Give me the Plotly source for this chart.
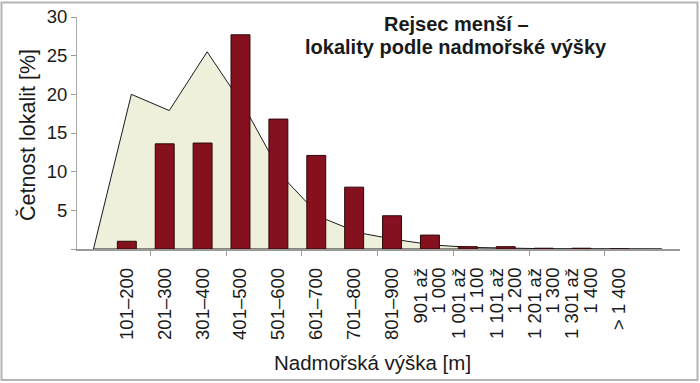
import plotly.graph_objects as go

# ---- data ----
categories = ["101–200", "201–300", "301–400", "401–500", "501–600", "601–700",
              "701–800", "801–900", "901 až\n1 000", "1 001 až\n1 100",
              "1 101 až\n1 200", "1 201 až\n1 300", "1 301 až\n1 400", "> 1 400"]
bar_values = [1.0, 13.6, 13.7, 27.7, 16.8, 12.1, 8.0, 4.3, 1.8, 0.3, 0.3, 0.1, 0.1, 0.0]
# comparison area series (leading and trailing zero points)
area_values = [0, 20.0, 17.9, 25.5, 18.2, 9.3, 4.1, 2.1, 1.2, 0.5, 0.2, 0.07, 0.03, 0.02, 0.01, 0]
y_ticks = [0, 5, 10, 15, 20, 25, 30]
y_ticktext = ["", "5", "10", "15", "20", "25", "30"]

W, H = 700, 383
OFF = 0                      # body margin removed by post_script
PW, PH = 603, 232            # plot area size in px
ML, MT = 77 - OFF, 17 - OFF
MR, MB = W - ML - PW, H - MT - PH
FONT = "Liberation Sans, Arial, Helvetica, sans-serif"
XR = [-0.435, 15.48]

def px_x(p):
    return (p - OFF - ML) / PW

def px_y(p):
    return (H - MB - (p - OFF)) / PH

area_x = list(range(len(area_values)))
bar_shift = -0.12
bar_x = [i + 1 + bar_shift for i in range(len(bar_values))]

# split two-line labels into two rotated columns
LINE_D = 0.24
lab1_vals, lab1_text, lab2_vals, lab2_text = [], [], [], []
for xv, lab in zip(bar_x, categories):
    parts = lab.split("\n")
    if len(parts) == 1:
        lab1_vals.append(xv); lab1_text.append(parts[0])
    else:
        lab1_vals.append(xv - LINE_D); lab1_text.append(parts[0])
        lab2_vals.append(xv + LINE_D); lab2_text.append(parts[1])

fig = go.Figure()
fig.add_trace(go.Scatter(
    x=area_x + [area_x[0]], y=area_values + [area_values[0]],
    mode="lines", fill="toself", fillcolor="#eef0dc",
    line=dict(color="#1a1a1a", width=1), hoverinfo="skip", showlegend=False))
fig.add_trace(go.Bar(
    x=bar_x, y=bar_values, width=0.5, xaxis="x2", yaxis="y2",
    marker=dict(color="#85111f", line=dict(color="#2a0808", width=1)),
    showlegend=False))

tickfont = dict(size=18.5, color="#1a1a1a")
fig.update_layout(
    width=W, height=H,
    margin=dict(l=ML, r=MR, t=MT, b=MB, autoexpand=False),
    paper_bgcolor="white", plot_bgcolor="rgba(0,0,0,0)",
    font=dict(family=FONT, color="#1a1a1a"),
    bargap=0,
    xaxis=dict(
        range=XR, tickmode="array", tickvals=lab1_vals, ticktext=lab1_text,
        tickangle=-90, tickfont=tickfont, ticklabeloverflow="allow",
        ticks="outside", ticklen=10, tickcolor="rgba(0,0,0,0)",
        showline=True, linecolor="#9a9a9a", linewidth=1.5, showgrid=False, zeroline=False,
        layer="below traces",
        minor=dict(tickmode="array", tickvals=[1.5, 3.5, 5.5, 7.5, 9.5, 11.5, 13.5],
                   ticks="outside", ticklen=5, tickcolor="#9a9a9a", tickwidth=1, showgrid=False),
    ),
    xaxis2=dict(
        range=XR, overlaying="x", anchor="y2", side="bottom",
        tickmode="array", tickvals=lab2_vals, ticktext=lab2_text,
        tickangle=-90, tickfont=tickfont, ticklabeloverflow="allow",
        ticks="outside", ticklen=10, tickcolor="rgba(0,0,0,0)",
        showline=False, showgrid=False, zeroline=False,
    ),
    yaxis=dict(
        range=[0, 30], tickmode="array", tickvals=y_ticks, ticktext=y_ticktext,
        ticks="outside", ticklen=5, tickcolor="#9a9a9a", ticklabeloverflow="allow",
        tickfont=dict(size=18.5, color="#1a1a1a"),
        showline=True, linecolor="#a8a8a8", linewidth=1, showgrid=False, zeroline=False,
    ),
    yaxis2=dict(range=[0, 30], overlaying="y", anchor="x2", visible=False),
    shapes=[dict(type="rect", xref="paper", yref="paper",
                 x0=px_x(1.5), x1=px_x(697.5), y0=px_y(380), y1=px_y(2.5),
                 line=dict(color="#b4b4b4", width=2), fillcolor="rgba(0,0,0,0)", layer="below")],
    annotations=[
        dict(text="<b>Rejsec menší –</b>", xref="paper", yref="paper",
             x=px_x(456), y=px_y(24), xanchor="center", yanchor="middle",
             showarrow=False, font=dict(size=20, color="#1a1a1a")),
        dict(text="<b>lokality podle nadmořské výšky</b>", xref="paper", yref="paper",
             x=px_x(456), y=px_y(46.5), xanchor="center", yanchor="middle",
             showarrow=False, font=dict(size=20, color="#1a1a1a")),
        dict(text="Četnost lokalit [%]", xref="paper", yref="paper",
             x=px_x(27), y=px_y(135), xanchor="center", yanchor="middle", textangle=-90,
             showarrow=False, font=dict(size=21.5, color="#1a1a1a")),
        dict(text="Nadmořská výška [m]", xref="paper", yref="paper",
             x=px_x(372), y=px_y(362), xanchor="center", yanchor="middle",
             showarrow=False, font=dict(size=20.5, color="#1a1a1a")),
    ],
)

fig.write_html("out.html", config={"displayModeBar": False, "staticPlot": True},
               post_script="document.body.style.margin='0px';")
